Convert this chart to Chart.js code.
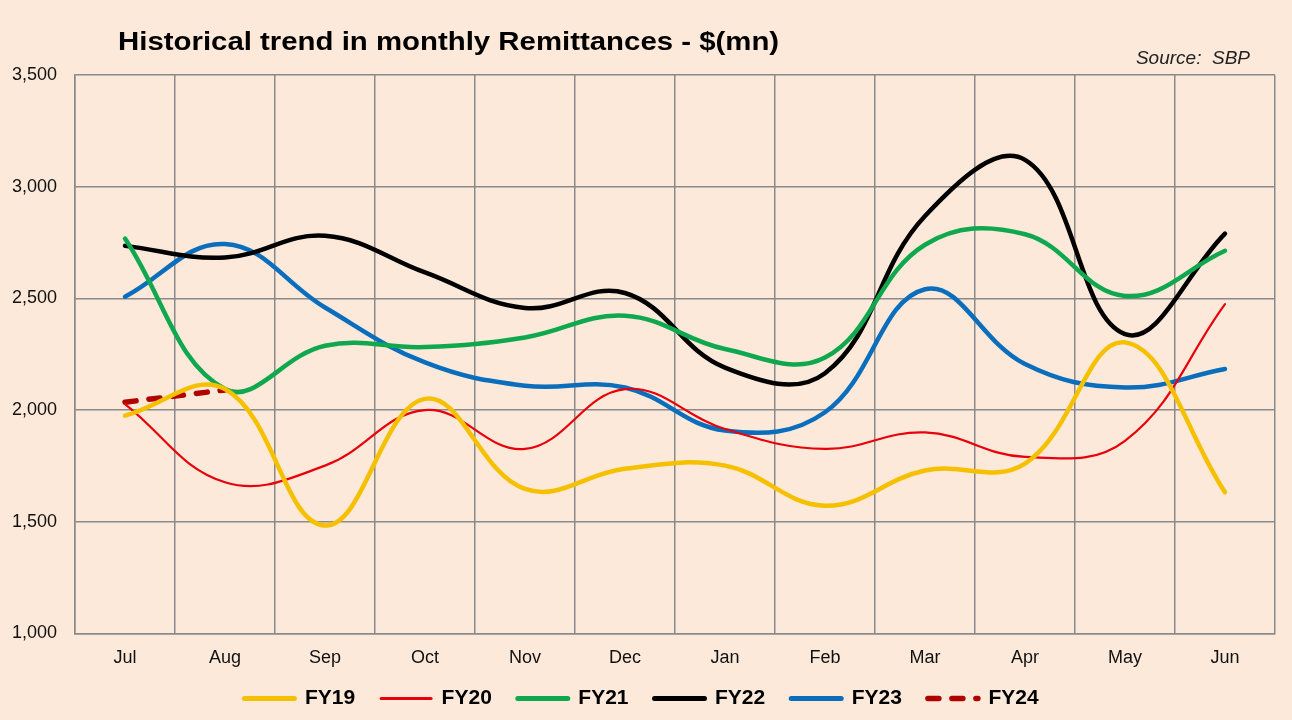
<!DOCTYPE html>
<html>
<head>
<meta charset="utf-8">
<script src="https://cdn.jsdelivr.net/npm/chart.js@4/dist/chart.umd.min.js"></script>
<style>
  html, body { margin: 0; padding: 0; background: #FDE9DA; }
  #wrap { width: 1292px; height: 720px; position: relative; }
</style>
</head>
<body>
<div id="wrap"><canvas id="myChart" width="1292" height="720"></canvas></div>
<script>
// values, $ mn
const months = ['Jul', 'Aug', 'Sep', 'Oct', 'Nov', 'Dec', 'Jan', 'Feb', 'Mar', 'Apr', 'May', 'Jun'];
const fy19 = [1975, 2094, 1483, 2050, 1647, 1737, 1751, 1572, 1729, 1760, 2303, 1632];
const fy20 = [2027, 1677, 1751, 2000, 1826, 2094, 1915, 1826, 1900, 1790, 1862, 2474];
const fy21 = [2768, 2094, 2288, 2282, 2325, 2422, 2273, 2235, 2740, 2787, 2511, 2713];
const fy22 = [2735, 2683, 2780, 2616, 2457, 2524, 2190, 2165, 2869, 3120, 2340, 2790];
const fy23 = [2507, 2743, 2459, 2213, 2109, 2101, 1908, 1990, 2541, 2206, 2101, 2184];
const fy24 = [2035, 2090];
const yTicks = [1000, 1500, 2000, 2500, 3000, 3500];

const titleText = 'Historical trend in monthly Remittances - $(mn)';
const sourceText = 'Source:  SBP';
const gridCol = '#8a8a8a';
const sans = '"Liberation Sans", Arial, sans-serif';
const legendWidths = [5, 3, 5, 5, 5, 5.5];

// title and source note drawn on the canvas
const headerText = {
  id: 'headerText',
  afterDraw(chart) {
    const ctx = chart.ctx;
    ctx.save();
    ctx.fillStyle = '#000';
    ctx.textBaseline = 'alphabetic';
    ctx.textAlign = 'left';
    ctx.font = 'bold 26px ' + sans;
    ctx.translate(118, 50);
    ctx.scale(1.13, 1);
    ctx.fillText(titleText, 0, 0);
    ctx.restore();
    ctx.save();
    ctx.textAlign = 'right';
    ctx.fillStyle = '#222';
    ctx.font = 'italic 19px ' + sans;
    ctx.fillText(sourceText, 1250, 59);
    ctx.restore();
  }
};

function line(label, data, color, width, extra) {
  return Object.assign({
    label: label, data: data, borderColor: color, backgroundColor: color,
    borderWidth: width, pointRadius: 0, pointHoverRadius: 0, tension: 0.4,
    fill: false, borderCapStyle: 'round'
  }, extra || {});
}

let ctx = document.getElementById('myChart').getContext('2d');
myChart = new Chart(ctx, {
  type: 'line',
  data: {
    labels: months,
    datasets: [
      line('FY19', fy19, '#F5C000', 4.5),
      line('FY20', fy20, '#E8000B', 2.2),
      line('FY21', fy21, '#10A84E', 4.5),
      line('FY22', fy22, '#000000', 4.5),
      line('FY23', fy23, '#0A6EBD', 4.5),
      line('FY24', fy24, '#B00000', 5.5, { borderDash: [11, 13] })
    ]
  },
  plugins: [headerText],
  options: {
    responsive: false, maintainAspectRatio: false, animation: false,
    layout: { padding: { left: 8, right: 17, top: 75, bottom: 1 } },
    plugins: {
      title: { display: false },
      tooltip: { enabled: false },
      legend: {
        position: 'bottom',
        labels: {
          usePointStyle: true, pointStyle: 'line', pointStyleWidth: 50,
          padding: 5, color: '#000',
          font: { family: sans, size: 21, weight: 'bold' },
          generateLabels(chart) {
            const items = Chart.defaults.plugins.legend.labels.generateLabels(chart);
            items.forEach((it, i) => {
              const ds = chart.data.datasets[i];
              it.lineDash = ds.borderDash || [];
              it.lineWidth = legendWidths[i];
              it.lineCap = 'round';
              it.strokeStyle = ds.borderColor;
              it.text = ds.label + (i < items.length - 1 ? '\u2002\u2002' : '');
            });
            return items;
          }
        }
      }
    },
    scales: {
      x: {
        offset: true,
        grid: { offset: true, color: gridCol, lineWidth: 1.5, drawTicks: false },
        border: { color: gridCol, width: 1.5 },
        ticks: { color: '#111', padding: 14, font: { family: sans, size: 18 } }
      },
      y: {
        min: 1000, max: 3500,
        afterBuildTicks(scale) { scale.ticks = yTicks.map(v => ({ value: v })); },
        afterFit(scale) { scale.width = 67; },
        grid: { color: gridCol, lineWidth: 1.5, drawTicks: false },
        border: { color: gridCol, width: 1.5 },
        ticks: { color: '#111', padding: 18, font: { family: sans, size: 18 } }
      }
    }
  }
});
</script>
</body>
</html>
